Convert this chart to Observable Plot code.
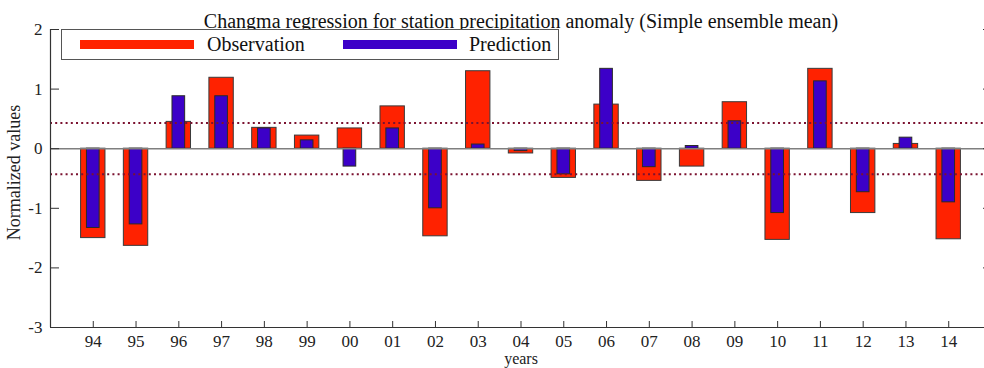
<!DOCTYPE html>
<html>
<head>
<meta charset="utf-8">
<script src="https://cdn.jsdelivr.net/npm/d3@7"></script>
<script src="https://cdn.jsdelivr.net/npm/@observablehq/plot@0.6"></script>
<style>
  html, body { margin: 0; padding: 0; background: #fff; }
  #wrap { position: relative; width: 984px; height: 368px; font-family: "Liberation Serif", serif; }
  #legend { position: absolute; left: 61px; top: 29px; width: 496px; height: 29px; border: 1px solid #555; background: #fff; }
  .sw { position: absolute; top: 10px; height: 9px; width: 114px; }
  .lt { position: absolute; top: 2px; font-size: 20px; line-height: 24px; color: #111; }
</style>
</head>
<body>
<div id="wrap">
  <div id="chart"></div>
  <div id="legend">
    <div class="sw" style="left:18px;background:#ff2200"></div>
    <div class="lt" style="left:145px">Observation</div>
    <div class="sw" style="left:281px;background:#3c00c8"></div>
    <div class="lt" style="left:407px">Prediction</div>
  </div>
</div>
<script>
const years = ["94","95","96","97","98","99","00","01","02","03","04","05","06","07","08","09","10","11","12","13","14"];
const observation = [-1.50,-1.63,0.45,1.19,0.35,0.22,0.34,0.71,-1.47,1.30,-0.08,-0.49,0.74,-0.54,-0.30,0.78,-1.53,1.34,-1.08,0.08,-1.52];
const prediction  = [-1.33,-1.27,0.88,0.88,0.34,0.14,-0.30,0.34,-1.00,0.07,-0.04,-0.43,1.34,-0.31,0.045,0.46,-1.08,1.13,-0.73,0.185,-0.90];
const thresholds = [0.43, -0.43];
const yTicks = [-3,-2,-1,0,1,2];
const titleText = "Changma regression for station precipitation anomaly (Simple ensemble mean)";

const obsData = years.map((y, i) => ({pos: i + 1, value: observation[i]}));
const predData = years.map((y, i) => ({pos: i + 1, value: prediction[i]}));
const xTicks = years.map((y, i) => i + 1);
const FF = "Liberation Serif";

const chart = Plot.plot({
  width: 984,
  height: 368,
  marginLeft: 50,
  marginRight: -7,
  marginTop: 29,
  marginBottom: 41,
  style: {fontFamily: FF, fontSize: "16px", color: "#222", overflow: "visible"},
  x: {type: "linear", domain: [0, 22]},
  y: {domain: [-3, 2]},
  marks: [
    Plot.rectY(obsData, {x1: d => d.pos - 0.285, x2: d => d.pos + 0.285, y: "value", fill: "#ff2200", stroke: "#3a3a3a", strokeWidth: 1}),
    Plot.rectY(predData, {x1: d => d.pos - 0.148, x2: d => d.pos + 0.148, y: "value", fill: "#3c00c8", stroke: "#2a2a2a", strokeWidth: 1}),
    Plot.ruleY([0], {stroke: "#7f7f7f", strokeWidth: 1.5}),
    Plot.ruleY(thresholds, {stroke: "#7b1230", strokeWidth: 2, strokeDasharray: "2,3.2"}),
    Plot.ruleX([0], {stroke: "#333", strokeWidth: 1.2}),
    Plot.ruleX([22], {stroke: "#333", strokeWidth: 1.2}),
    Plot.ruleY([-3], {stroke: "#333", strokeWidth: 1.2}),
    Plot.axisY({anchor: "left", ticks: yTicks, tickSize: 0, tickPadding: 8, tickFormat: d => String(d), label: null, fontSize: 17, fontFamily: FF, fill: "#222"}),
    Plot.axisY({anchor: "left", ticks: yTicks, tickSize: 9, dx: 9, tickFormat: () => "", label: null, stroke: "#333"}),
    Plot.axisY({anchor: "right", ticks: yTicks, tickSize: 9, dx: -9, tickFormat: () => "", label: null, stroke: "#333"}),
    Plot.axisX({anchor: "bottom", ticks: xTicks, tickSize: 0, tickPadding: 7, tickFormat: d => years[d - 1], label: null, fontSize: 17, fontFamily: FF, fill: "#222"}),
    Plot.axisX({anchor: "bottom", ticks: xTicks, tickSize: 6, dy: -6, tickFormat: () => "", label: null, stroke: "#333"}),
    Plot.text([titleText], {frameAnchor: "top", dy: -16, text: d => d, fontSize: 20, fontFamily: FF, fill: "#111"}),
    Plot.text(["years"], {frameAnchor: "bottom", lineAnchor: "top", dy: 25, text: d => d, fontSize: 16, fontFamily: FF, fill: "#222"}),
    Plot.text(["Normalized values"], {frameAnchor: "left", textAnchor: "middle", dx: -36, dy: -6, rotate: -90, text: d => d, fontSize: 18, fontFamily: FF, fill: "#222"})
  ]
});
document.getElementById("chart").appendChild(chart);
</script>
</body>
</html>
